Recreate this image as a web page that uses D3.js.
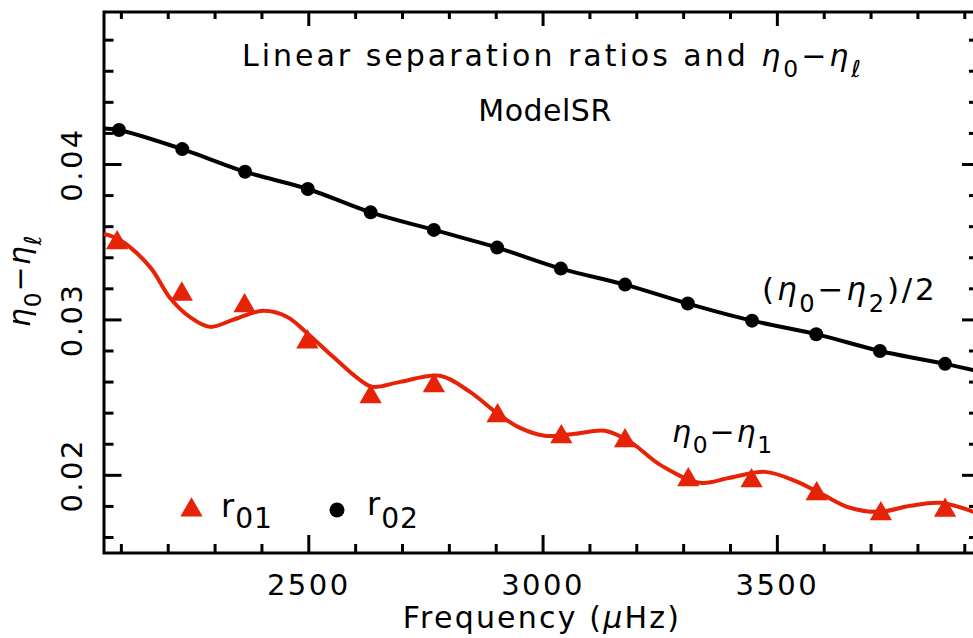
<!DOCTYPE html>
<html>
<head>
<meta charset="utf-8">
<script src="https://cdn.jsdelivr.net/npm/d3@7"></script>
<style>
  html, body { margin: 0; padding: 0; background: #fff; }
  svg { display: block; }
</style>
</head>
<body>
<svg id="chart" width="973" height="638"></svg>
<script>
// r01 points (triangles) and r02 points (dots)
const r01Freq = [2092, 2230, 2364, 2498, 2633, 2768, 2904, 3040, 3176, 3311, 3446, 3585, 3722, 3859];
const r01Val  = [0.03493, 0.03162, 0.03087, 0.02855, 0.02502, 0.02572, 0.02379, 0.02244, 0.02219, 0.01968, 0.01961, 0.01878, 0.01749, 0.01772];

const r02Freq = [2096, 2231, 2365, 2499, 2633, 2768, 2903, 3039, 3176, 3310, 3447, 3584, 3720, 3859];
const r02Val  = [0.04219, 0.04096, 0.03950, 0.03839, 0.03689, 0.03576, 0.03462, 0.03327, 0.03224, 0.03102, 0.02992, 0.02905, 0.02797, 0.02714];

// fitted curves
const fit01Freq = [2064, 2098, 2162, 2205, 2247, 2290, 2339, 2403, 2455, 2497, 2553, 2610, 2638, 2696, 2781, 2845, 2905, 2952, 3005, 3069, 3133, 3187, 3251, 3336, 3400, 3475, 3539, 3599, 3656, 3720, 3785, 3849, 3925];
const fit01Val  = [0.03550, 0.03511, 0.03338, 0.03138, 0.03016, 0.02952, 0.02997, 0.03055, 0.03016, 0.02913, 0.02759, 0.02611, 0.02566, 0.02598, 0.02637, 0.02534, 0.02392, 0.02302, 0.02251, 0.02264, 0.02283, 0.02212, 0.02064, 0.01949, 0.01981, 0.02019, 0.01961, 0.01871, 0.01788, 0.01762, 0.01801, 0.01820, 0.01756];

const fit02Freq = [2064, 2096, 2231, 2365, 2499, 2633, 2768, 2903, 3039, 3176, 3310, 3447, 3584, 3720, 3859, 3925];
const fit02Val  = [0.04228, 0.04219, 0.04096, 0.03950, 0.03839, 0.03689, 0.03576, 0.03462, 0.03327, 0.03224, 0.03102, 0.02992, 0.02905, 0.02797, 0.02714, 0.02670];

const xMajor = [2500, 3000, 3500];
const yMajor = [0.02, 0.03, 0.04];
const xLabels = ['2500', '3000', '3500'];
const yLabels = ['0.02', '0.03', '0.04'];

const FONT = "'DejaVu Sans', sans-serif";
const RED = '#e62207';

const margin = {top: 12, right: -3, bottom: 85, left: 104};
const W = 973, H = 638;
const x0 = margin.left, x1 = W - margin.right, y0 = margin.top, y1 = H - margin.bottom;

const x = d3.scaleLinear().domain([2064, 3925]).range([x0, x1]);
const y = d3.scaleLinear().domain([0.01497, 0.04978]).range([y1, y0]);

const svg = d3.select('#chart');

svg.append('defs').append('clipPath').attr('id', 'plot-clip')
  .append('rect').attr('x', x0).attr('y', y0).attr('width', x1 - x0).attr('height', y1 - y0);

// axes: ticks point inward
const xMinor = d3.range(2100, 3925, 100).filter(v => v % 500 !== 0);
const yMinor = d3.range(16, 50, 2).map(v => v / 1000).filter(v => Math.round(v * 1000) % 10 !== 0);

function styleAxis(g) {
  g.select('.domain').remove();
  g.selectAll('line').attr('stroke', '#000').attr('stroke-width', 3);
}

svg.append('g').attr('transform', 'translate(0,' + y1 + ')')
  .call(d3.axisBottom(x).tickValues(xMinor).tickSize(-9).tickFormat(''))
  .call(styleAxis);
const xAx = svg.append('g').attr('transform', 'translate(0,' + y1 + ')')
  .call(d3.axisBottom(x).tickValues(xMajor).tickSize(-18).tickFormat((d, i) => xLabels[i]))
  .call(styleAxis);
xAx.selectAll('text')
  .attr('y', 42).attr('dy', 0)
  .attr('font-family', FONT).attr('font-size', 29).attr('letter-spacing', 2.5)
  .attr('fill', '#000');

svg.append('g').attr('transform', 'translate(0,' + y0 + ')')
  .call(d3.axisTop(x).tickValues(xMinor).tickSize(-7).tickFormat(''))
  .call(styleAxis);
svg.append('g').attr('transform', 'translate(0,' + y0 + ')')
  .call(d3.axisTop(x).tickValues(xMajor).tickSize(-14).tickFormat(''))
  .call(styleAxis);

svg.append('g').attr('transform', 'translate(' + x0 + ',0)')
  .call(d3.axisLeft(y).tickValues(yMinor).tickSize(-9.5).tickFormat(''))
  .call(styleAxis);
const yAx = svg.append('g').attr('transform', 'translate(' + x0 + ',0)')
  .call(d3.axisLeft(y).tickValues(yMajor).tickSize(-17.5).tickFormat((d, i) => yLabels[i]))
  .call(styleAxis);
yAx.selectAll('text')
  .attr('x', 0).attr('y', 0).attr('dy', 0)
  .attr('transform', 'translate(-22,0) rotate(-90)')
  .attr('text-anchor', 'middle')
  .attr('font-family', FONT).attr('font-size', 29).attr('letter-spacing', 2.5)
  .attr('fill', '#000');

svg.append('g').attr('transform', 'translate(' + x1 + ',0)')
  .call(d3.axisRight(y).tickValues(yMinor).tickSize(-7).tickFormat(''))
  .call(styleAxis);
svg.append('g').attr('transform', 'translate(' + x1 + ',0)')
  .call(d3.axisRight(y).tickValues(yMajor).tickSize(-14).tickFormat(''))
  .call(styleAxis);

// frame
svg.append('rect')
  .attr('x', x0).attr('y', y0).attr('width', x1 - x0).attr('height', y1 - y0)
  .attr('fill', 'none').attr('stroke', '#000').attr('stroke-width', 3);

// curves
const plot = svg.append('g').attr('clip-path', 'url(#plot-clip)');
const line = d3.line().x(d => x(d[0])).y(d => y(d[1])).curve(d3.curveCatmullRom.alpha(0.5));

plot.append('path')
  .datum(fit02Freq.map((f, i) => [f, fit02Val[i]]))
  .attr('d', line).attr('fill', 'none').attr('stroke', '#000').attr('stroke-width', 4);

plot.append('path')
  .datum(fit01Freq.map((f, i) => [f, fit01Val[i]]))
  .attr('d', line).attr('fill', 'none').attr('stroke', RED).attr('stroke-width', 4);

const tri = d3.symbol().type(d3.symbolTriangle).size(215);

plot.selectAll('.r02').data(r02Freq).join('circle')
  .attr('cx', d => x(d)).attr('cy', (d, i) => y(r02Val[i])).attr('r', 7).attr('fill', '#000');

plot.selectAll('.r01').data(r01Freq).join('path')
  .attr('d', tri)
  .attr('transform', (d, i) => 'translate(' + x(d) + ',' + y(r01Val[i]) + ')')
  .attr('fill', RED);

// text helpers
function rich(el, parts, size, subScale, subShift) {
  let cur = 0;
  parts.forEach(p => {
    const shift = p.sub ? size * subShift : 0;
    const ts = el.append('tspan').text(p.t).attr('dy', shift - cur);
    cur = shift;
    if (p.sub) ts.attr('font-size', size * subScale);
    if (p.it) ts.attr('font-style', 'italic');
  });
}

function label(px, py, parts, size, opts) {
  opts = opts || {};
  const t = svg.append('text')
    .attr('x', px).attr('y', py)
    .attr('font-family', FONT).attr('font-size', size)
    .attr('letter-spacing', opts.ls || 0)
    .attr('text-anchor', opts.anchor || 'start')
    .attr('fill', '#000');
  if (opts.rotate) t.attr('transform', 'rotate(-90,' + px + ',' + py + ')');
  rich(t, parts, size, opts.subScale || 0.78, opts.subShift || 0.38);
  return t;
}

// title
label(553, 66, [
  {t: 'Linear separation ratios and '},
  {t: 'η', it: true}, {t: '0', sub: true}, {t: '−'}, {t: 'η', it: true}, {t: 'ℓ', sub: true, it: true}
], 30, {anchor: 'middle', ls: 3});
label(545, 121, [{t: 'ModelSR'}], 30, {anchor: 'middle', ls: 0.5});

// axis titles
label(542, 628, [{t: 'Frequency ('}, {t: 'μ', it: true}, {t: 'Hz)'}], 30, {anchor: 'middle', ls: 2.2});
label(30, 281, [
  {t: 'η', it: true}, {t: '0', sub: true}, {t: '−'}, {t: 'η', it: true}, {t: 'ℓ', sub: true, it: true}
], 30, {anchor: 'middle', rotate: true, ls: 1});

// curve annotations
label(762, 300, [
  {t: '('}, {t: 'η', it: true}, {t: '0', sub: true}, {t: '−'}, {t: 'η', it: true}, {t: '2', sub: true}, {t: ')/2'}
], 31, {ls: 2.8});
label(672, 442, [
  {t: 'η', it: true}, {t: '0', sub: true}, {t: '−'}, {t: 'η', it: true}, {t: '1', sub: true}
], 30, {ls: 1.8});

// legend
svg.append('path').attr('d', tri).attr('transform', 'translate(191.5,510)').attr('fill', RED);
label(221, 516.5, [{t: 'r'}, {t: '01', sub: true}], 32, {subScale: 0.88, subShift: 0.36, ls: 1});
svg.append('circle').attr('cx', 337).attr('cy', 510).attr('r', 7.5).attr('fill', '#000');
label(367, 515, [{t: 'r'}, {t: '02', sub: true}], 32, {subScale: 0.88, subShift: 0.4, ls: 1});
</script>
</body>
</html>
